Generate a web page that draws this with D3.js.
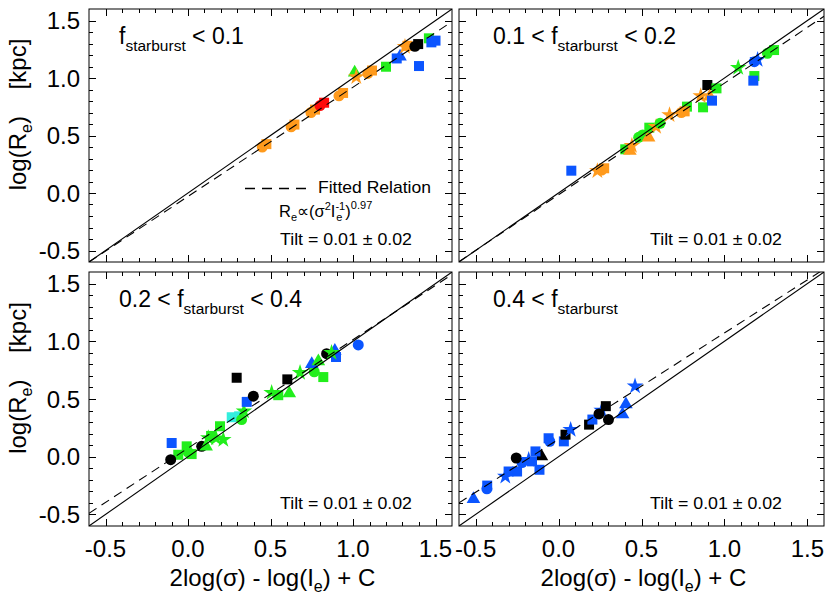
<!DOCTYPE html>
<html><head><meta charset="utf-8">
<script src="https://cdn.jsdelivr.net/npm/d3@7"></script>
<style>
body{margin:0;background:#fff}
svg{display:block}
text{font-family:"Liberation Sans",Arial,Helvetica,sans-serif;fill:#000}
</style>
</head><body>
<svg id="chart" width="830" height="596"></svg>
<script>
// ---------------- data ----------------
const xDomain = [-0.6, 1.6];
const yDomain = [-0.6, 1.6];
const xTickValues = [-0.5, 0.0, 0.5, 1.0, 1.5];
const yTickValues = [-0.5, 0.0, 0.5, 1.0, 1.5];
const xTickLabels = ["-0.5", "0.0", "0.5", "1.0", "1.5"];
const yTickLabels = ["-0.5", "0.0", "0.5", "1.0", "1.5"];
const titlePre  = ["", "0.1 < ", "0.2 < ", "0.4 < "];
const titlePost = [" < 0.1", " < 0.2", " < 0.4", ""];
const fitSlope     = [0.95, 0.97, 0.94, 0.92];
const fitIntercept = [-0.03, -0.015, 0.074, 0.152];
const tiltLabel = "Tilt = 0.01 \u00b1 0.02";
const colorKeys = {o:"#ff9a1c", g:"#22ee1c", b:"#0b55ff", k:"#000000", r:"#ff0a0a", c:"#33eedd"};

// [x, y, shape (s=square c=circle t=triangle *=star), colour key]
const panel1Points = [
  [0.45,0.40,"c","o"],[0.475,0.425,"s","o"],
  [0.625,0.575,"c","o"],[0.645,0.595,"s","o"],
  [0.745,0.70,"c","o"],[0.77,0.725,"s","o"],
  [0.80,0.76,"c","r"],[0.825,0.785,"s","r"],
  [0.915,0.845,"c","o"],[0.94,0.87,"s","o"],
  [1.01,1.06,"t","g"],[1.02,1.01,"*","o"],
  [1.09,1.04,"c","o"],[1.115,1.065,"s","o"],
  [1.20,1.098,"s","g"],
  [1.265,1.17,"s","b"],[1.285,1.20,"t","b"],
  [1.33,1.28,"s","o"],[1.315,1.272,"*","o"],
  [1.375,1.275,"c","k"],[1.395,1.295,"s","k"],
  [1.40,1.104,"s","b"],
  [1.46,1.345,"s","g"],
  [1.475,1.31,"s","b"],[1.50,1.325,"s","b"]
];
const panel2Points = [
  [0.077,0.194,"s","b"],
  [0.26,0.20,"c","o"],[0.275,0.215,"s","o"],[0.234,0.191,"*","o"],
  [0.402,0.38,"s","g"],
  [0.43,0.38,"t","o"],[0.442,0.411,"*","o"],
  [0.483,0.484,"c","g"],[0.507,0.505,"c","g"],
  [0.543,0.496,"t","o"],
  [0.547,0.568,"s","g"],
  [0.588,0.577,"*","o"],
  [0.612,0.606,"c","g"],
  [0.669,0.678,"*","o"],
  [0.774,0.751,"s","g"],
  [0.74,0.70,"c","o"],[0.76,0.71,"s","o"],
  [0.871,0.745,"s","g"],
  [0.857,0.843,"*","o"],
  [0.897,0.939,"s","k"],
  [0.952,0.91,"s","g"],
  [0.911,0.852,"t","o"],
  [0.925,0.803,"s","b"],
  [1.083,1.09,"*","g"],
  [1.18,1.017,"s","g"],
  [1.174,0.977,"s","b"],
  [1.18,1.142,"c","b"],[1.20,1.16,"*","b"],
  [1.259,1.215,"c","g"],[1.299,1.243,"s","g"]
];
const panel3Points = [
  [-0.099,0.119,"s","b"],
  [-0.059,0.017,"s","g"],
  [-0.008,0.09,"s","g"],
  [0.0,0.04,"c","g"],[0.022,0.023,"s","g"],
  [-0.105,-0.026,"c","k"],
  [0.083,0.09,"c","k"],
  [0.11,0.10,"t","g"],[0.123,0.163,"*","g"],
  [0.14,0.18,"s","g"],
  [0.194,0.264,"s","g"],
  [0.17,0.16,"*","g"],[0.214,0.148,"*","g"],
  [0.265,0.342,"s","c"],[0.31,0.35,"s","c"],
  [0.325,0.322,"c","g"],
  [0.339,0.394,"*","g"],
  [0.356,0.475,"s","b"],
  [0.396,0.524,"c","k"],
  [0.295,0.684,"s","k"],
  [0.507,0.554,"*","g"],
  [0.547,0.533,"s","g"],
  [0.614,0.563,"t","g"],
  [0.602,0.67,"s","k"],
  [0.679,0.728,"*","g"],
  [0.765,0.736,"c","g"],
  [0.82,0.69,"s","g"],
  [0.75,0.815,"t","b"],
  [0.79,0.84,"t","g"],
  [0.897,0.864,"s","b"],
  [0.89,0.93,"t","b"],
  [0.84,0.893,"c","k"],
  [0.87,0.902,"*","g"],
  [1.032,0.968,"c","b"]
];
const panel4Points = [
  [-0.513,-0.354,"t","b"],
  [-0.43,-0.25,"s","b"],[-0.432,-0.278,"c","b"],
  [-0.321,-0.171,"*","b"],
  [-0.301,-0.128,"s","b"],
  [-0.25,-0.128,"s","b"],
  [-0.22,-0.05,"c","b"],
  [-0.255,-0.011,"c","k"],
  [-0.18,-0.026,"*","b"],
  [-0.103,0.017,"t","k"],
  [-0.16,-0.04,"s","b"],
  [-0.139,0.046,"s","b"],
  [-0.115,-0.113,"s","b"],
  [-0.06,0.16,"s","b"],[-0.053,0.133,"c","b"],
  [0.032,0.133,"s","b"],
  [0.042,0.191,"s","k"],
  [0.073,0.235,"*","b"],
  [0.184,0.278,"s","k"],
  [0.204,0.322,"s","b"],
  [0.26,0.40,"*","b"],
  [0.285,0.438,"s","k"],
  [0.244,0.371,"c","k"],
  [0.301,0.322,"c","k"],
  [0.386,0.38,"t","b"],
  [0.406,0.467,"t","b"],
  [0.461,0.611,"*","b"]
];
const panelPoints = [panel1Points, panel2Points, panel3Points, panel4Points];

// ---------------- layout ----------------
const panels = [
  {x0:89, x1:452, y0:9,   y1:262, left:true,  bottom:false},
  {x0:459,x1:824, y0:9,   y1:262, left:false, bottom:false},
  {x0:89, x1:452, y0:272, y1:526, left:true,  bottom:true},
  {x0:459,x1:824, y0:272, y1:526, left:false, bottom:true}
];
const svg = d3.select("#chart");
const shapeMap = {s:d3.symbolSquare, c:d3.symbolCircle, t:d3.symbolTriangle, "*":d3.symbolStar};
const sizeMap = {s:100, c:95, t:80, "*":85};
const minor = d3.range(-6, 17).map(v => v/10);

panels.forEach((p, i) => {
  const x = d3.scaleLinear().domain(xDomain).range([p.x0, p.x1]);
  const y = d3.scaleLinear().domain(yDomain).range([p.y1, p.y0]);
  const g = svg.append("g");
  const clipId = "clip" + i;
  svg.append("clipPath").attr("id", clipId).append("rect")
    .attr("x", p.x0).attr("y", p.y0).attr("width", p.x1 - p.x0).attr("height", p.y1 - p.y0);

  // points
  const pg = g.append("g").attr("clip-path", `url(#${clipId})`);
  pg.selectAll("path.pt").data(panelPoints[i]).join("path")
    .attr("class","pt")
    .attr("transform", d => {
      const dy = d[2] === "t" ? 1.5 : 0;
      return `translate(${x(d[0])},${y(d[1]) + dy})`;
    })
    .attr("d", d => d3.symbol().type(shapeMap[d[2]]).size(sizeMap[d[2]])())
    .attr("fill", d => colorKeys[d[3]]);

  // one-to-one line and fitted relation
  const line = d3.line().x(d => x(d[0])).y(d => y(d[1]));
  pg.append("path").attr("d", line([[xDomain[0], xDomain[0]], [xDomain[1], xDomain[1]]]))
    .attr("stroke", "#000").attr("stroke-width", 1.1).attr("fill", "none");
  pg.append("path").attr("d", line([[xDomain[0], fitIntercept[i] + fitSlope[i]*xDomain[0]],
                                    [xDomain[1], fitIntercept[i] + fitSlope[i]*xDomain[1]]]))
    .attr("stroke", "#000").attr("stroke-width", 1.1).attr("fill", "none")
    .attr("stroke-dasharray", "9,6");

  // frame
  g.append("rect").attr("x", p.x0).attr("y", p.y0).attr("width", p.x1 - p.x0).attr("height", p.y1 - p.y0)
    .attr("fill", "none").attr("stroke", "#000").attr("stroke-width", 1);

  // ticks (inward, all sides)
  const tk = g.append("g").attr("stroke", "#000").attr("stroke-width", 1);
  const isMajor = v => xTickValues.some(t => Math.abs(t - v) < 1e-6);
  minor.forEach(v => {
    if (v <= xDomain[0] + 1e-6 || v >= xDomain[1] - 1e-6) return;
    const len = isMajor(v) ? 7 : 4;
    const xv = Math.round(x(v)) + 0.5;
    tk.append("line").attr("x1", xv).attr("x2", xv).attr("y1", p.y1).attr("y2", p.y1 - len);
    tk.append("line").attr("x1", xv).attr("x2", xv).attr("y1", p.y0).attr("y2", p.y0 + len);
    const yv = Math.round(y(v)) + 0.5;
    tk.append("line").attr("y1", yv).attr("y2", yv).attr("x1", p.x0).attr("x2", p.x0 + len);
    tk.append("line").attr("y1", yv).attr("y2", yv).attr("x1", p.x1).attr("x2", p.x1 - len);
  });

  // tick labels
  if (p.left) {
    yTickValues.forEach((v, k) => {
      g.append("text").attr("x", p.x0 - 9).attr("y", y(v) + 8.5)
        .attr("text-anchor", "end").attr("font-size", 24).text(yTickLabels[k]);
    });
    const cy = (p.y0 + p.y1)/2 - 21;
    const t = g.append("text").attr("transform", `translate(26,${cy}) rotate(-90)`)
      .attr("text-anchor", "middle").attr("font-size", 24);
    t.append("tspan").text("log(R");
    t.append("tspan").attr("font-size", 16).attr("dy", 6).text("e");
    t.append("tspan").attr("dy", -6).text(")\u00a0\u00a0\u00a0\u00a0[kpc]");
  }
  if (p.bottom) {
    xTickValues.forEach((v, k) => {
      g.append("text").attr("x", x(v)).attr("y", p.y1 + 31)
        .attr("text-anchor", "middle").attr("font-size", 24).text(xTickLabels[k]);
    });
    const t = g.append("text").attr("x", (p.x0 + p.x1)/2 + 2).attr("y", p.y1 + 60)
      .attr("text-anchor", "middle").attr("font-size", 24);
    t.append("tspan").text("2log(\u03c3) - log(I");
    t.append("tspan").attr("font-size", 16).attr("dy", 6).text("e");
    t.append("tspan").attr("dy", -6).text(") + C");
  }

  // panel title
  const tx = (i % 2 === 0) ? p.x0 + 30 : p.x0 + 34;
  const title = g.append("text").attr("x", tx).attr("y", p.y0 + 35).attr("font-size", 23);
  if (titlePre[i]) title.append("tspan").text(titlePre[i]);
  title.append("tspan").text("f");
  title.append("tspan").attr("font-size", 15.5).attr("dy", 7).text("starburst");
  if (titlePost[i]) title.append("tspan").attr("dy", -7).text(titlePost[i]);

  // tilt text
  g.append("text").attr("x", p.x0 + 191).attr("y", p.y1 - 17).attr("font-size", 17)
    .attr("textLength", 132).attr("lengthAdjust", "spacingAndGlyphs").text(tiltLabel);

  // legend in first panel
  if (i === 0) {
    g.append("line").attr("x1", p.x0 + 156).attr("x2", p.x0 + 219).attr("y1", 188.5).attr("y2", 188.5)
      .attr("stroke", "#000").attr("stroke-width", 1.3).attr("stroke-dasharray", "10,7");
    g.append("text").attr("x", p.x0 + 229).attr("y", 193).attr("font-size", 17)
      .attr("textLength", 113).attr("lengthAdjust", "spacingAndGlyphs").text("Fitted Relation");
    const f = g.append("text").attr("x", p.x0 + 190).attr("y", 217).attr("font-size", 16.5);
    f.append("tspan").text("R");
    f.append("tspan").attr("font-size", 11).attr("dy", 4).text("e");
    f.append("tspan").attr("dy", -4).text("\u221d(\u03c3");
    f.append("tspan").attr("font-size", 11).attr("dy", -7).text("2");
    f.append("tspan").attr("dy", 7).text("I");
    f.append("tspan").attr("font-size", 11).attr("dy", -7).text("-1");
    f.append("tspan").attr("font-size", 11).attr("dx", -9).attr("dy", 11).text("e");
    f.append("tspan").attr("dx", 3).attr("dy", -4).text(")");
    f.append("tspan").attr("font-size", 11).attr("dy", -8).text("0.97");
  }
});
</script>
</body></html>
